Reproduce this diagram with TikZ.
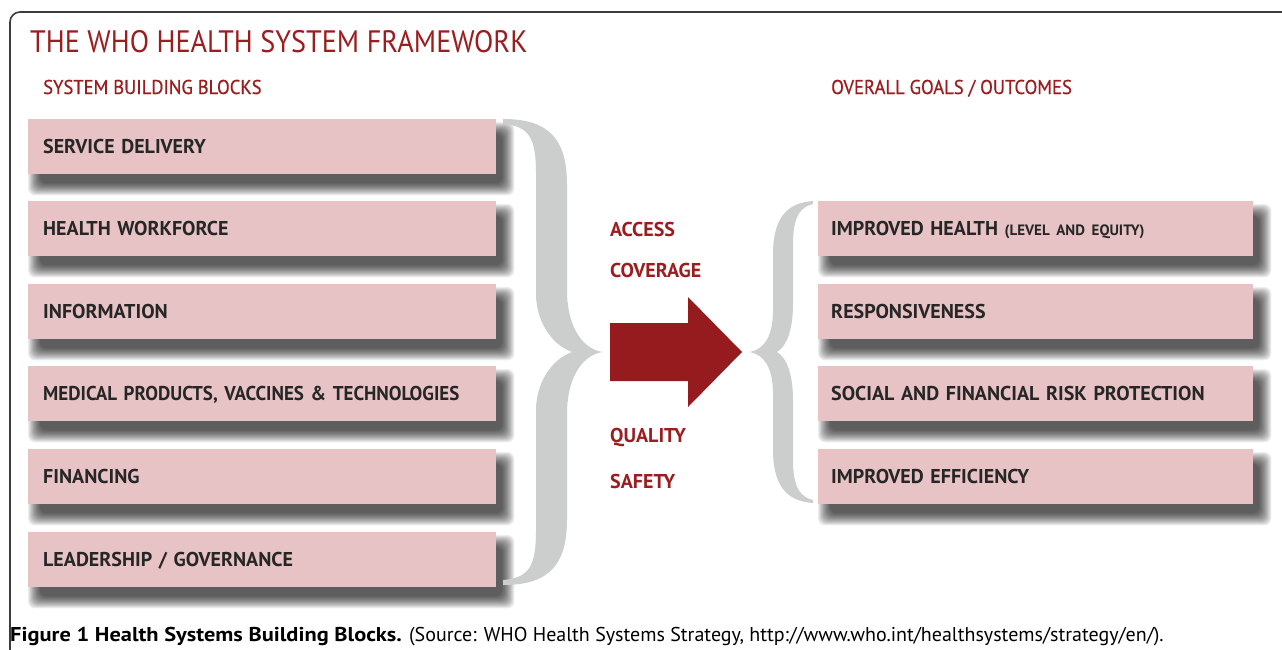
\documentclass[tikz,border=0pt]{standalone}
\usepackage{fontspec}
\setmainfont{PT Sans}
\newfontfamily\titlefont[FakeStretch=0.91]{PT Sans}
\newfontfamily\headfont[FakeStretch=0.93, FakeBold=0.6]{PT Sans}
\newfontfamily\capboldfont[FakeStretch=1.12]{PT Sans Bold}
\newfontfamily\boxnarrowfont[FakeStretch=0.95]{PT Sans Bold}
\pgfdeclarelayer{paperlayer}
\pgfdeclarelayer{shadowlayer}
\pgfsetlayers{paperlayer,shadowlayer,main}
\definecolor{whored}{RGB}{155,29,32}
\definecolor{arrowred}{RGB}{149,27,31}
\definecolor{boxpink}{RGB}{231,195,197}
\definecolor{bracegray}{RGB}{203,206,205}
\definecolor{framegray}{RGB}{60,60,60}
\tikzset{
  blockbox/.style={fill=boxpink, rectangle, anchor=north west,
    minimum height=55pt, inner ysep=0pt, align=left, text height=14pt, text depth=0pt,
    font=\fontsize{20}{22}\selectfont\bfseries, text=black!85},
  leftbox/.style={blockbox, inner xsep=15pt, text width=438pt},
  rightbox/.style={blockbox, inner xsep=13pt, text width=409pt},
  redlabel/.style={anchor=base west, inner sep=0pt, text=whored, font=\fontsize{20}{22}\selectfont\bfseries},
  header/.style={anchor=base west, inner sep=0pt, text=whored, font=\fontsize{20}{22}\headfont},
  bracefill/.style={fill=bracegray, draw=none},
  shadowlayerfill/.style={fill=black, fill opacity=0.072, rounded corners=7pt}
}
\begin{document}
\begin{tikzpicture}[x=1pt,y=-1pt]
\useasboundingbox (0,0) rectangle (1282,649);
\begin{pgfonlayer}{paperlayer}
\fill[white] (0,0) rectangle (1282,649);
\end{pgfonlayer}
% frame
\draw[framegray, line width=1.6pt, rounded corners=10pt] (10,652) -- (10,12) -- (1285,12);
% title and headers
\node[anchor=base west, inner sep=0pt, text=whored, font=\fontsize{31}{34}\titlefont] (title) at (30,52) {THE WHO HEALTH SYSTEM FRAMEWORK};
\node[header] (hleft) at (43,94) {SYSTEM BUILDING BLOCKS};
\node[header] (hright) at (831,94) {OVERALL GOALS / OUTCOMES};
% left blocks
\node[leftbox] (b1) at (28,119) {SERVICE DELIVERY};
\node[leftbox] (b2) at (28,201) {HEALTH WORKFORCE};
\node[leftbox] (b3) at (28,284) {INFORMATION};
\node[leftbox] (b4) at (28,366) {{\boxnarrowfont MEDICAL PRODUCTS, VACCINES \& TECHNOLOGIES}};
\node[leftbox] (b5) at (28,449) {FINANCING};
\node[leftbox] (b6) at (28,532) {LEADERSHIP / GOVERNANCE};
% right goals
\node[rightbox] (g1) at (818,201) {IMPROVED HEALTH {\fontsize{15}{17}\selectfont (LEVEL AND EQUITY)}};
\node[rightbox] (g2) at (818,284) {RESPONSIVENESS};
\node[rightbox] (g3) at (818,366) {SOCIAL AND FINANCIAL RISK PROTECTION};
\node[rightbox] (g4) at (818,449) {IMPROVED EFFICIENCY};
% soft drop shadows
\begin{pgfonlayer}{shadowlayer}
\foreach \n in {b1,b2,b3,b4,b5,b6,g1,g2,g3,g4}{
  \foreach \k in {-3,...,9}{
    \fill[shadowlayerfill] ([shift={(9-\k,12-\k)}]\n.north west) rectangle ([shift={(9+\k,12+\k)}]\n.south east);
  }
}
\end{pgfonlayer}
% left brace
\path[bracefill] (503,119) .. controls (550,119) and (567,140) .. (567,185) -- (567,290)
  .. controls (567,330) and (585,350) .. (603,352)
  .. controls (585,354) and (567,374) .. (567,414) -- (567,519)
  .. controls (567,564) and (550,585) .. (503,585) -- (503,580)
  .. controls (530,578) and (536,565) .. (536,530) -- (536,410)
  .. controls (536,385) and (550,360) .. (572,352)
  .. controls (550,344) and (536,319) .. (536,294) -- (536,174)
  .. controls (536,139) and (530,126) .. (503,124) -- cycle;
% right brace
\path[bracefill] (813,201) .. controls (785,203) and (773,220) .. (773,255) -- (773,310)
  .. controls (773,335) and (765,349) .. (750,352)
  .. controls (765,355) and (773,369) .. (773,394) -- (773,449)
  .. controls (773,484) and (785,501) .. (813,503) -- (813,500)
  .. controls (800,497) and (793,487) .. (793,460) -- (793,400)
  .. controls (793,375) and (787,358) .. (777,352)
  .. controls (787,346) and (793,329) .. (793,304) -- (793,244)
  .. controls (793,217) and (800,207) .. (813,204) -- cycle;
% central arrow
\fill[arrowred] (610,323) -- (688,323) -- (688,297) -- (742,352) -- (688,407) -- (688,381) -- (610,381) -- cycle;
% middle labels
\node[redlabel] (access) at (610,236) {ACCESS};
\node[redlabel] (coverage) at (610,277) {COVERAGE};
\node[redlabel] (quality) at (610,442) {QUALITY};
\node[redlabel] (safety) at (610,488) {SAFETY};
% caption
\node[anchor=base west, inner sep=0pt, font=\fontsize{20}{22}\selectfont, text=black] (caption) at (10,641)
  {{\capboldfont Figure 1 Health Systems Building Blocks.} (Source: WHO Health Systems Strategy, http://www.who.int/healthsystems/strategy/en/).};
\end{tikzpicture}
\end{document}
